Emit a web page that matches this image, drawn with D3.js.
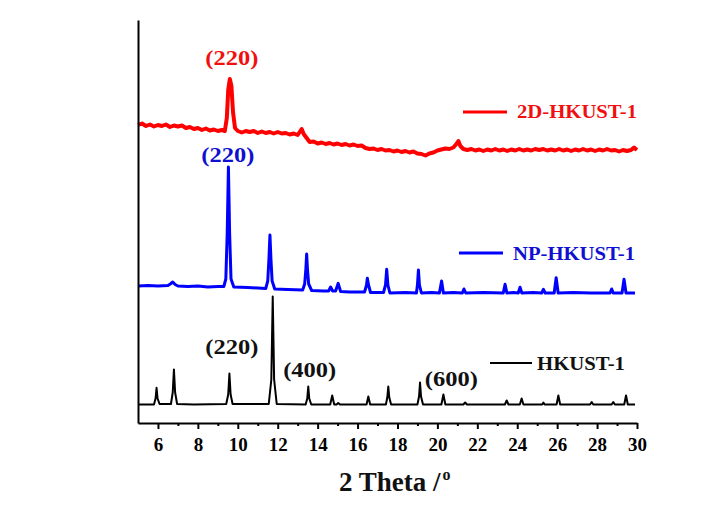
<!DOCTYPE html>
<html>
  <head>
    <meta charset="utf-8">
    <title>XRD HKUST-1</title>
    <script src="https://d3js.org/d3.v7.min.js"></script>
    <style>
    body { margin: 0; background: #fff; }
    text { font-family: "Times New Roman", "Liberation Serif", serif; font-weight: bold; }
    .axis path, .axis line { stroke: #000; stroke-width: 2; }
    .axis text { font-size: 19px; fill: #000; }
    </style>
  </head>
  <body>
<svg id="chart" width="724" height="506"></svg>

<script>
// 2 theta (deg) vs intensity (a.u.), each pattern relative to its own baseline
var redPts = [
  [5.0,27],[5.2,28.5],[5.4,26],[5.6,27.5],[5.8,25.5],[6.0,27],[6.2,26],[6.4,27.5],[6.6,25],[6.8,26.5],
  [7.0,25.5],[7.2,26.5],[7.4,24],[7.6,25],[7.8,23],[8.0,24],[8.2,22],[8.4,23.5],[8.6,21.5],[8.8,22.5],
  [9.0,21],[9.2,22],[9.35,21],[9.45,34],[9.52,62],[9.6,73],[9.68,66],[9.76,40],[9.86,24],[10.0,21],
  [10.2,19.5],[10.4,21],[10.6,20],[10.8,21],[11.0,19],[11.2,20.5],[11.4,19],[11.6,20],[11.8,18.5],[12.0,20],
  [12.2,18.5],[12.4,19],[12.6,17.5],[12.8,18.5],[13.0,17],[13.1,20],[13.2,23],[13.3,18],[13.45,14],[13.6,10],
  [13.8,10.5],[14.0,8.5],[14.2,9.5],[14.4,8],[14.6,9],[14.8,7.5],[15.0,8.5],[15.2,7],[15.4,8],[15.6,6.5],
  [15.8,7.5],[16.0,6],[16.2,6.5],[16.4,4],[16.6,3],[16.8,3.5],[17.0,2],[17.2,3],[17.4,1.5],[17.6,2],
  [17.8,0.5],[18.0,1.5],[18.2,0],[18.4,1],[18.6,-0.5],[18.8,0.5],[19.0,-1.5],[19.2,-2],[19.4,-3.5],[19.6,-1.5],
  [19.8,-0.5],[20.0,1.5],[20.2,2.5],[20.4,3.5],[20.6,3],[20.8,4.5],[20.95,8],[21.05,11],[21.15,6],[21.3,3],
  [21.5,2],[21.7,3],[21.9,1.5],[22.1,2.5],[22.3,1],[22.5,2.5],[22.7,1.5],[22.9,3],[23.1,1.5],[23.3,2.5],
  [23.5,1],[23.7,2.5],[23.9,1.5],[24.1,3],[24.3,1.5],[24.5,2.5],[24.7,1.5],[24.9,3],[25.1,2],[25.3,3],
  [25.5,1.5],[25.7,2.5],[25.9,1.5],[26.1,3],[26.3,1.5],[26.5,2.5],[26.7,1],[26.9,2.5],[27.1,1.5],[27.3,3],
  [27.5,1.5],[27.7,2.5],[27.9,1],[28.1,2.5],[28.3,1.5],[28.5,3],[28.7,1.5],[28.9,2],[29.1,0.5],[29.3,2],
  [29.5,1],[29.7,2],[29.85,4.5],[30.0,2]
];

var bluePts = [
  [5.0,7],[5.5,7.5],[6.0,7],[6.5,7.5],[6.62,9],[6.74,11],[6.86,8.5],[7.0,7],[7.5,6.5],[8.0,7],
  [8.5,6],[9.0,6.5],[9.3,6.5],[9.4,14],[9.47,60],[9.53,126],[9.59,60],[9.66,14],[9.8,6],[10.5,5.5],
  [11.0,5],[11.4,4.5],[11.5,12],[11.56,34],[11.61,58],[11.66,34],[11.72,12],[11.85,4],[12.5,3.5],[13.25,3],
  [13.35,9],[13.41,24],[13.45,39],[13.49,24],[13.55,9],[13.7,2.5],[14.3,2],[14.55,2],[14.65,6],[14.75,2],
  [14.9,2],[15.03,9.7],[15.15,1.5],[15.6,1],[16.35,1],[16.45,8],[16.49,14.7],[16.55,8],[16.65,0.5],[17.3,0.5],
  [17.4,8],[17.46,23.7],[17.52,8],[17.62,0],[18.4,0.5],[18.95,0],[19.0,8],[19.05,23],[19.1,8],[19.2,0],
  [19.7,0.5],[20.1,0],[20.21,12],[20.3,0],[20.8,0.5],[21.25,0],[21.33,4],[21.42,0],[22.3,0.5],[23.3,0],
  [23.39,8.7],[23.48,0],[23.8,0.5],[24.05,0],[24.14,5.7],[24.23,0],[24.8,0.5],[25.22,0],[25.31,3.7],[25.4,0],
  [25.85,0],[25.95,15.3],[26.05,0],[26.8,0.5],[27.7,0],[28.65,0],[28.73,4],[28.81,0],[29.25,0],[29.35,13.7],
  [29.45,0],[29.9,0]
];

var blackPts = [
  [5.0,0],[5.8,0],[5.88,6],[5.93,16.7],[5.98,6],[6.08,0.5],[6.65,0.5],[6.74,12],[6.8,35],[6.86,12],
  [6.96,0.5],[7.8,0],[9.42,0.5],[9.52,10],[9.58,31],[9.64,10],[9.74,0.5],[11.55,0.5],[11.68,25],[11.75,108],
  [11.82,25],[11.95,0.5],[13.4,0],[13.48,6],[13.53,18],[13.58,6],[13.68,0],[14.63,0],[14.73,9],[14.83,0],
  [14.95,0],[15.03,1.5],[15.12,0],[16.45,0],[16.54,8],[16.63,0],[17.42,0],[17.49,7],[17.54,18],[17.59,7],
  [17.68,0],[19.0,0],[19.08,8],[19.13,22],[19.18,8],[19.28,0],[20.2,0],[20.3,10],[20.4,0],[21.3,0],
  [21.39,2],[21.48,0],[23.38,0],[23.47,4],[23.56,0],[24.13,0],[24.22,6],[24.31,0],[25.25,0],[25.31,2],
  [25.37,0],[25.97,0],[26.06,9],[26.15,0],[27.65,0],[27.73,2.5],[27.81,0],[28.73,0],[28.81,2.5],[28.89,0],
  [29.36,0],[29.45,9],[29.54,0],[29.9,0]
];

var seriesNames = ['HKUST-1', 'NP-HKUST-1', '2D-HKUST-1'];
var seriesOffsets = [18.5, 130, 271];
var majorTicks = [6, 8, 10, 12, 14, 16, 18, 20, 22, 24, 26, 28, 30];
var minorTicks = [7, 9, 11, 13, 15, 17, 19, 21, 23, 25, 27, 29];

// peak labels: [text, 2theta, intensity above the axis, colour]
var peakLabels = [
  ['(220)', 9.7, 358, 'red'],
  ['(220)', 9.5, 261, 'blue'],
  ['(220)', 9.7, 69, 'black'],
  ['(400)', 13.6, 46, 'black'],
  ['(600)', 20.7, 37, 'black']
];

var svg = d3.select('#chart');

var x = d3.scaleLinear().domain([5, 30]).range([138, 637]);
var y = d3.scaleLinear().domain([0, 403]).range([423, 20]);

var colors = { red: '#ff0000', blue: '#0000ff', black: '#000000' };
var textColors = { red: '#f01010', blue: '#1010d0', black: '#111111' };

var series = [
  { pts: blackPts, off: seriesOffsets[0], c: 'black', w: 2 },
  { pts: bluePts, off: seriesOffsets[1], c: 'blue', w: 3 },
  { pts: redPts, off: seriesOffsets[2], c: 'red', w: 4 }
];

series.forEach(function(s) {
  var line = d3.line()
    .x(function(d) { return x(d[0]); })
    .y(function(d) { return y(d[1] + s.off); });
  svg.append('path')
    .datum(s.pts)
    .attr('fill', 'none')
    .attr('stroke', colors[s.c])
    .attr('stroke-width', s.w)
    .attr('stroke-linejoin', 'round')
    .attr('d', line);
});

// axes
svg.append('g')
  .attr('class', 'axis')
  .attr('transform', 'translate(0,423)')
  .call(d3.axisBottom(x).tickValues(minorTicks).tickSize(3).tickSizeOuter(0).tickFormat(''))
  .select('.domain').remove();

svg.append('g')
  .attr('class', 'axis')
  .attr('transform', 'translate(0,423)')
  .call(d3.axisBottom(x).tickValues(majorTicks).tickSize(6).tickSizeOuter(0).tickPadding(9));

svg.append('g')
  .attr('class', 'axis')
  .attr('transform', 'translate(138,0)')
  .call(d3.axisLeft(y).tickValues([]).tickSizeOuter(0));

// axis title
var title = svg.append('text')
  .attr('x', 339)
  .attr('y', 491)
  .attr('font-size', 27)
  .attr('fill', '#111');
title.append('tspan').text('2 Theta /');
title.append('tspan').attr('font-size', 16).attr('dy', -11).attr('dx', 2).text('o');

// legend
var legend = [
  { name: seriesNames[2], c: 'red', x1: 463, x2: 507, ly: 112, tx: 517, ty: 118, tl: 120, w: 3 },
  { name: seriesNames[1], c: 'blue', x1: 459, x2: 503, ly: 253, tx: 513, ty: 260, tl: 122, w: 3 },
  { name: seriesNames[0], c: 'black', x1: 490, x2: 532, ly: 363, tx: 537, ty: 370, tl: 88, w: 2 }
];
legend.forEach(function(l) {
  svg.append('line')
    .attr('x1', l.x1).attr('x2', l.x2)
    .attr('y1', l.ly).attr('y2', l.ly)
    .attr('stroke', colors[l.c])
    .attr('stroke-width', l.w);
  svg.append('text')
    .attr('x', l.tx).attr('y', l.ty)
    .attr('font-size', 19)
    .attr('fill', textColors[l.c])
    .attr('textLength', l.tl)
    .attr('lengthAdjust', 'spacingAndGlyphs')
    .text(l.name);
});

// peak labels
svg.selectAll('.peak')
  .data(peakLabels)
  .enter().append('text')
  .attr('class', 'peak')
  .attr('x', function(d) { return x(d[1]); })
  .attr('y', function(d) { return y(d[2]); })
  .attr('text-anchor', 'middle')
  .attr('font-size', 20)
  .attr('fill', function(d) { return textColors[d[3]]; })
  .attr('textLength', 53)
  .attr('lengthAdjust', 'spacingAndGlyphs')
  .text(function(d) { return d[0]; });
</script>
  </body>
</html>
